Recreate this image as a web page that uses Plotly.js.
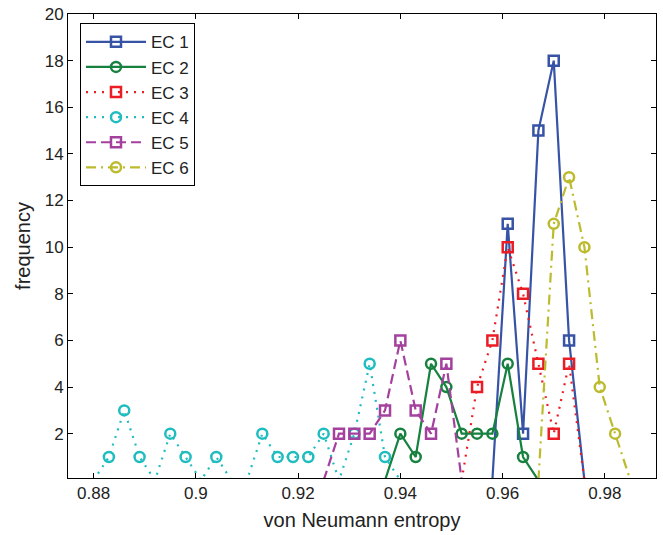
<!DOCTYPE html>
<html>
<head>
<meta charset="utf-8">
<script src="https://cdn.plot.ly/plotly-3.0.1.min.js"></script>
<style>
  html, body { margin: 0; padding: 0; background: #fff; }
  #chart { width: 663px; height: 535px; }
</style>
</head>
<body>
<div id="chart"></div>
<script>
// Bin centres (von Neumann entropy) and frequencies for each EC
const ec1X = [0.958, 0.961, 0.964, 0.967, 0.970, 0.973, 0.976];
const ec1Y = [0, 11, 2, 15, 18, 6, 0];

const ec2X = [0.937, 0.940, 0.943, 0.946, 0.949, 0.952, 0.955, 0.958, 0.961, 0.964, 0.967];
const ec2Y = [0, 2, 1, 5, 4, 2, 2, 2, 5, 1, 0];

const ec3X = [0.952, 0.955, 0.958, 0.961, 0.964, 0.967, 0.970, 0.973, 0.976];
const ec3Y = [0, 4, 6, 10, 8, 5, 2, 5, 0];

const ec4X = [0.880, 0.883, 0.886, 0.889, 0.892, 0.895, 0.898, 0.901, 0.904, 0.907, 0.910,
              0.913, 0.916, 0.919, 0.922, 0.925, 0.928, 0.931, 0.934, 0.937, 0.940];
const ec4Y = [0, 1, 3, 1, 0, 2, 1, 0, 1, 0, 0,
              2, 1, 1, 1, 2, 0, 2, 5, 1, 0];

const ec5X = [0.925, 0.928, 0.931, 0.934, 0.937, 0.940, 0.943, 0.946, 0.949, 0.952];
const ec5Y = [0, 2, 2, 2, 3, 6, 3, 2, 5, 0];

const ec6X = [0.967, 0.970, 0.973, 0.976, 0.979, 0.982, 0.985];
const ec6Y = [0, 11, 13, 10, 4, 2, 0];

const seriesNames = ['EC 1', 'EC 2', 'EC 3', 'EC 4', 'EC 5', 'EC 6'];

const xTicks = [0.88, 0.9, 0.92, 0.94, 0.96, 0.98];
const xTickText = ['0.88', '0.9', '0.92', '0.94', '0.96', '0.98'];
const yTicks = [2, 4, 6, 8, 10, 12, 14, 16, 18, 20];

// styles
const styles = [
  {color: '#3653a6', dash: 'solid', symbol: 'square-open', size: 10},
  {color: '#17813f', dash: 'solid', symbol: 'circle-open', size: 10},
  {color: '#ec1c24', dash: '2px,6px', symbol: 'square-open', size: 10},
  {color: '#1fbcc0', dash: '2px,6px', symbol: 'circle-open', size: 10},
  {color: '#a4409e', dash: '10px,5px', symbol: 'square-open', size: 10},
  {color: '#bcbb2e', dash: '10px,5px,2px,5px', symbol: 'circle-open', size: 10}
];

const xs = [ec1X, ec2X, ec3X, ec4X, ec5X, ec6X];
const ys = [ec1Y, ec2Y, ec3Y, ec4Y, ec5Y, ec6Y];

const dataTraces = xs.map((x, i) => {
  const s = styles[i];
  return {
    type: 'scatter',
    mode: 'lines+markers',
    name: seriesNames[i],
    legendgroup: 'g' + i,
    showlegend: false,
    x: x,
    y: ys[i],
    line: {color: s.color, width: 2.2, dash: s.dash},
    marker: {
      symbol: s.symbol,
      color: s.color,
      opacity: 1,
      // no marker for empty bins (they lie below the visible range)
      size: ys[i].map(v => v > 0 ? s.size : 0),
      line: {color: s.color, width: 2.5}
    },
    cliponaxis: true
  };
});

// legend entries (no data, only the key)
const legendTraces = styles.map((s, i) => ({
  type: 'scatter',
  mode: 'lines+markers',
  name: seriesNames[i],
  legendgroup: 'g' + i,
  x: [null],
  y: [null],
  line: {color: s.color, width: 2.2, dash: s.dash},
  marker: {symbol: s.symbol, color: s.color, opacity: 1, size: s.size, line: {color: s.color, width: 2.5}}
}));

const fontFamily = 'Liberation Sans, Arial, Helvetica, sans-serif';

const layout = {
  width: 663,
  height: 535,
  margin: {l: 68, r: 7, t: 14, b: 57},
  paper_bgcolor: '#ffffff',
  plot_bgcolor: '#ffffff',
  font: {family: fontFamily, size: 17, color: '#222222'},
  showlegend: true,
  legend: {
    x: 0.0204, y: 0.98, xanchor: 'left', yanchor: 'top',
    bgcolor: '#ffffff', bordercolor: '#000000', borderwidth: 1,
    font: {family: fontFamily, size: 17, color: '#222222'},
    tracegroupgap: 0,
    itemwidth: 60
  },
  xaxis: {
    range: [0.875, 0.99],
    tickvals: xTicks,
    ticktext: xTickText,
    ticks: 'inside', ticklen: 5, tickwidth: 1, tickcolor: '#000000',
    showline: true, linecolor: '#000000', linewidth: 1, mirror: 'ticks',
    showgrid: false, zeroline: false,
    tickfont: {family: fontFamily, size: 17, color: '#222222'},
    title: {text: 'von Neumann entropy', font: {family: fontFamily, size: 20, color: '#222222'}, standoff: 10}
  },
  yaxis: {
    range: [0.1, 20],
    tickvals: yTicks,
    ticks: 'inside', ticklen: 5, tickwidth: 1, tickcolor: '#000000',
    showline: true, linecolor: '#000000', linewidth: 1, mirror: 'ticks',
    showgrid: false, zeroline: false,
    tickfont: {family: fontFamily, size: 17, color: '#222222'},
    title: {text: 'frequency', font: {family: fontFamily, size: 20, color: '#222222'}, standoff: 8}
  }
};

Plotly.newPlot('chart', dataTraces.concat(legendTraces), layout, {displayModeBar: false, staticPlot: true});
</script>
</body>
</html>
